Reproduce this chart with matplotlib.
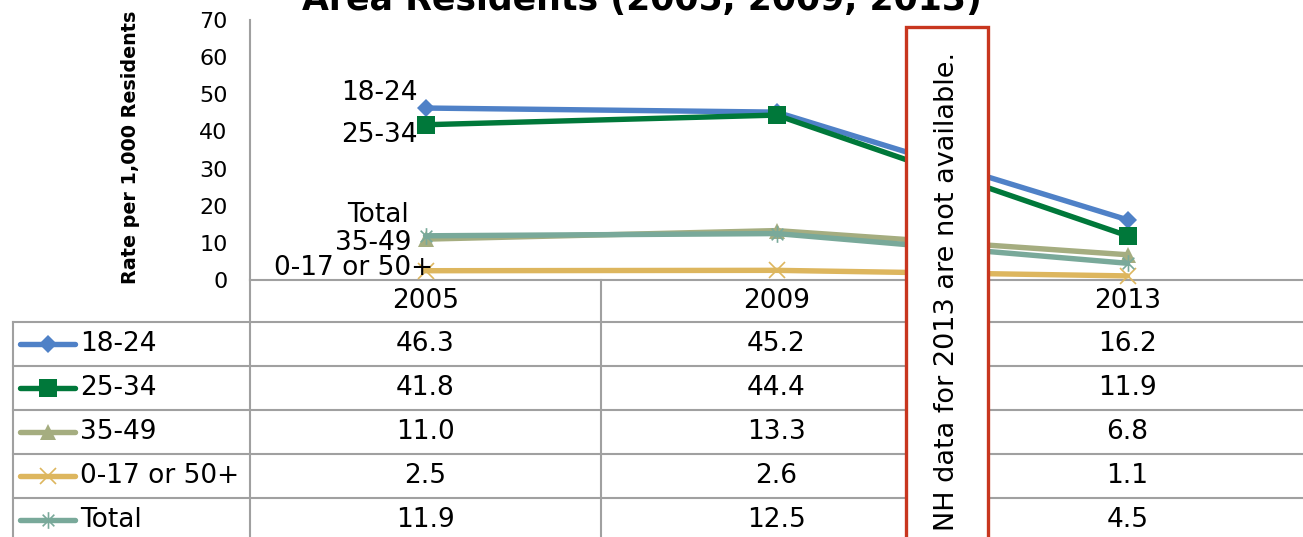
import numpy as np
import matplotlib.pyplot as plt
from matplotlib.path import Path
from matplotlib.patches import Rectangle
from matplotlib.lines import Line2D

# ==================================
# Data
# ==================================
years = ["2005", "2009", "2013"]
series_names = ["18-24", "25-34", "35-49", "0-17 or 50+", "Total"]
rate_18_24 = [46.3, 45.2, 16.2]
rate_25_34 = [41.8, 44.4, 11.9]
rate_35_49 = [11.0, 13.3, 6.8]
rate_0_17_50 = [2.5, 2.6, 1.1]
rate_total = [11.9, 12.5, 4.5]
y_ticks = [0, 10, 20, 30, 40, 50, 60, 70]

title = "Area Residents (2005, 2009, 2013)"
y_label = "Rate per 1,000 Residents"
note = "NH data for 2013 are not available."

# ==================================
# Styles
# ==================================
asterisk = Path([(0, -1), (0, 1), (-0.7, -0.7), (0.7, 0.7), (-0.7, 0.7), (0.7, -0.7)],
                [Path.MOVETO, Path.LINETO, Path.MOVETO, Path.LINETO, Path.MOVETO, Path.LINETO])
styles = [
    dict(color="#4F81C7", marker="D", ms=9, mew=0),
    dict(color="#00783A", marker="s", ms=13, mew=0),
    dict(color="#A5AD80", marker="^", ms=12, mew=0),
    dict(color="#DDB65E", marker="x", ms=12, mew=1.2),
    dict(color="#79A99A", marker=asterisk, ms=12, mew=1.2),
]
# label offsets (pixels) from the 2005 point, same order as series_names
label_offsets = [(-8, 15), (-8, -10), (-14, -4), (8, 3), (-17, 21)]

grid_col = "#A0A0A0"
font_sz = 19

plt.rcParams["font.family"] = "DejaVu Sans"

W, H = 1303, 537
fig = plt.figure(figsize=(W / 100, H / 100), dpi=100)

# pixel geometry
ax_left, ax_right, ax_top, ax_bot = 250, 1303, 20, 280
band = (ax_right - ax_left) / len(years)

ax = fig.add_axes([ax_left / W, 1 - ax_bot / H, (ax_right - ax_left) / W, (ax_bot - ax_top) / H])
ax.set_xlim(-0.5, len(years) - 0.5)
ax.set_ylim(0, 70)
ax.set_yticks(y_ticks)
ax.tick_params(axis="y", length=0, pad=16, labelsize=16)
ax.set_xticks([])
for s in ["top", "right"]:
    ax.spines[s].set_visible(False)
for s in ["left", "bottom"]:
    ax.spines[s].set_color(grid_col)
    ax.spines[s].set_linewidth(1.5)
ax.set_ylabel(y_label, fontsize=13.8, fontweight="bold")
ax.yaxis.set_label_coords(-0.1045, 0.51)

all_rates = [rate_18_24, rate_25_34, rate_35_49, rate_0_17_50, rate_total]
x = np.arange(len(years))
for name, vals, st, off in zip(series_names, all_rates, styles, label_offsets):
    ax.plot(x, vals, color=st["color"], lw=3.9, marker=st["marker"], ms=st["ms"],
            mew=st["mew"], mec=st["color"], mfc=st["color"], clip_on=False, zorder=3,
            solid_capstyle="round")
    ax.annotate(name, (x[0], vals[0]), xytext=off, textcoords="offset pixels",
                ha="right", va="center", fontsize=font_sz)

# ==================================
# Data table (pixel coordinates)
# ==================================
tab = fig.add_axes([0, 0, 1, 1], zorder=5)
tab.set_xlim(0, W)
tab.set_ylim(H, 0)
tab.axis("off")
tab.patch.set_alpha(0)

tab_left = 13
header_bot = 322
row_h = 44
col_x = [ax_left + band * i for i in range(len(years) + 1)]

# vertical lines
for cx in col_x[:-1]:
    tab.plot([cx, cx], [ax_bot, H], color=grid_col, lw=1.5)
tab.plot([tab_left, tab_left], [header_bot, H], color=grid_col, lw=1.5)
# horizontal lines
for i in range(len(series_names)):
    yy = header_bot + i * row_h
    tab.plot([tab_left, W], [yy, yy], color=grid_col, lw=1.5)

# header
for i, yr in enumerate(years):
    tab.text(ax_left + band * (i + 0.5), (ax_bot + header_bot) / 2, yr,
             ha="center", va="center", fontsize=font_sz)

# rows
for r, (name, vals, st) in enumerate(zip(series_names, all_rates, styles)):
    yc = header_bot + row_h * (r + 0.5)
    tab.add_line(Line2D([20, 75], [yc, yc], color=st["color"], lw=3.9, solid_capstyle="round"))
    tab.plot([47.5], [yc], linestyle="none", marker=st["marker"], ms=st["ms"],
             mew=st["mew"], mec=st["color"], mfc=st["color"])
    tab.text(80, yc, name, ha="left", va="center", fontsize=font_sz)
    for i, v in enumerate(vals):
        tab.text(ax_left + band * (i + 0.5), yc, f"{v:.1f}",
                 ha="center", va="center", fontsize=font_sz)

# note box
tab.add_patch(Rectangle((906, 27), 82, H + 20 - 27, facecolor="white",
                        edgecolor="#C8361F", lw=2.4, zorder=10))
tab.text(947, 531, note, rotation=90, ha="center", va="bottom",
         fontsize=19.5, zorder=11)

# title (cut off at the top, as in the source)
fig.text(642 / W, 1 - 10 / H, title, ha="center", va="baseline",
         fontsize=25, fontweight="bold")

fig.savefig("out.png", dpi=100)
